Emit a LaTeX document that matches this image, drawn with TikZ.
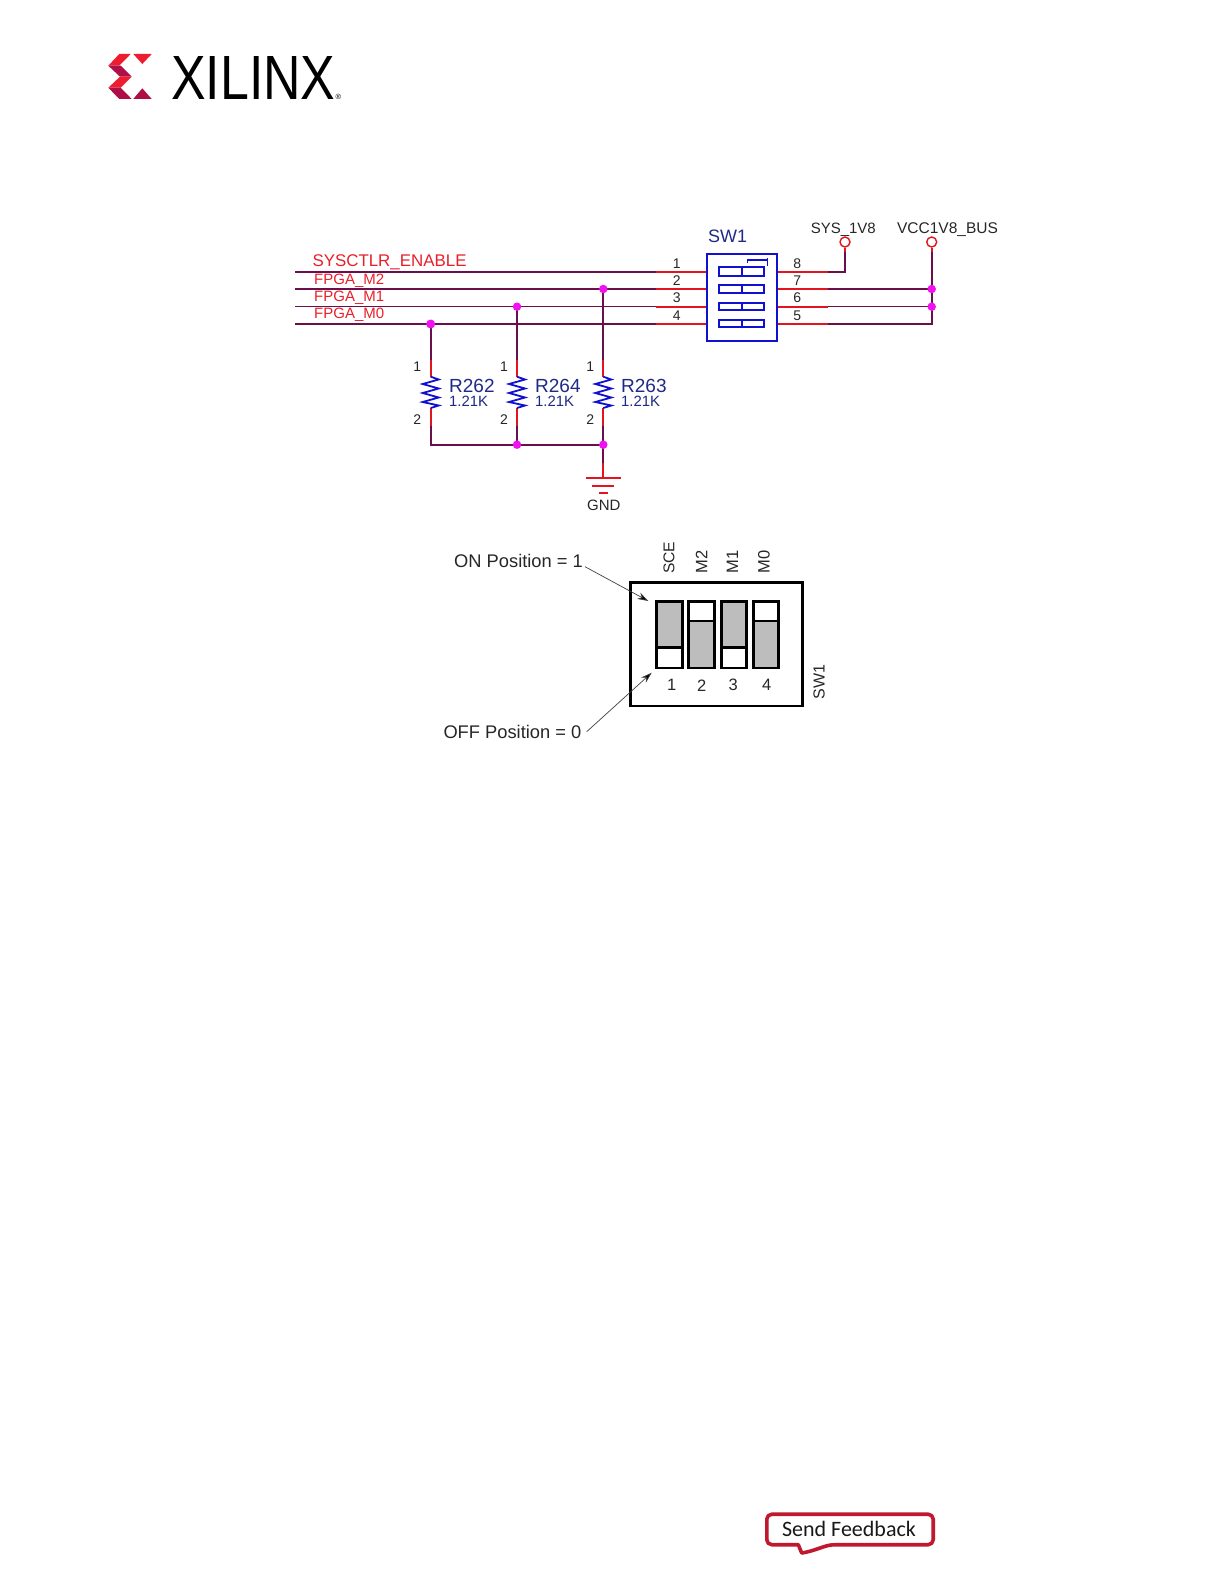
\documentclass[tikz,border=0pt]{standalone}
\usepackage{fontspec}
\usepackage{graphicx}
\usetikzlibrary{arrows.meta}
\setmainfont{Liberation Sans}
\newfontfamily\fbfont{Carlito}
\definecolor{wirec}{HTML}{6A0F4C}
\definecolor{pinred}{HTML}{E2141E}
\definecolor{symblue}{HTML}{1010D0}
\definecolor{navyt}{HTML}{1E2A86}
\definecolor{dotm}{HTML}{F010F0}
\definecolor{netred}{HTML}{E8202A}
\definecolor{logoa}{HTML}{ED1C2E}
\definecolor{logob}{HTML}{AE0F46}
\definecolor{fbred}{HTML}{C0182F}
\newcommand{\fs}[1]{\fontsize{#1}{#1}\selectfont}
\tikzset{
  x=1pt,y=-1pt,
  wire/.style={draw=wirec,line width=1.9pt},
  thinwire/.style={draw=wirec,line width=1.4pt},
  pin/.style={draw=pinred,line width=1.9pt},
  sym/.style={draw=symblue,line width=1.8pt},
  dot/.style={circle,fill=dotm,inner sep=0pt,minimum size=8.5pt},
  net/.style={inner sep=0pt,anchor=west,text=netred},
  num/.style={inner sep=0pt,text=black!85,font=\fs{14}},
  rname/.style={inner sep=0pt,anchor=west,text=navyt,font=\fs{19}},
  rval/.style={inner sep=0pt,anchor=west,text=navyt,font=\fs{14.9}},
  blk/.style={inner sep=0pt,text=black!85},
  term/.style={circle,draw=pinred,line width=1.4pt,fill=white,inner sep=0pt,minimum size=10pt},
  dip/.style={draw=black,line width=2.6pt},
  note/.style={draw=black!75,line width=.7pt,-{Stealth[length=11pt,width=7pt,fill=black]}}
}
\newcommand{\resist}[1]{%
  \draw[sym,line join=miter] (#1,376.7) -- (#1+8,379.5) -- (#1-8,384) -- (#1+8,388.5) -- (#1-8,393) -- (#1+8,397.5) -- (#1-8,402) -- (#1+8,405.5) -- (#1,408);
}
\newcommand{\dipsw}[4]{\fill[black!26] (#1,#3) rectangle (#2,#4);}
\begin{document}
\begin{tikzpicture}
\useasboundingbox (0,0) rectangle (1224,1584);
% logo
\fill[logoa] (108.3,65.7) -- (119.3,54) -- (130.7,54) -- (119.3,65.7) -- cycle;
\fill[logoa] (133.3,54) -- (151.7,54) -- (142.3,64) -- cycle;
\fill[logob] (108.3,65.7) -- (120.7,65.7) -- (131.7,76.7) -- (120,76.7) -- cycle;
\fill[logoa] (120,76.7) -- (131.7,76.7) -- (120.7,87.7) -- (108.3,87.7) -- cycle;
\fill[logob] (108.3,87.7) -- (120.7,87.7) -- (131.7,99) -- (119.3,99) -- cycle;
\fill[logob] (142.3,88.3) -- (151.7,99) -- (133.3,99) -- cycle;
\node[inner sep=0pt,anchor=base west] (xlx) at (171,99.3) {\scalebox{0.83}[1]{\fs{62.5}XILINX}};
\node[inner sep=0pt,anchor=center] (reg) at (338.5,96.5) {\fs{7.5}®};
% wires
\coordinate (w1l) at (295,271.7); \coordinate (w2l) at (295,289); \coordinate (w3l) at (295,306.7); \coordinate (w4l) at (295,324);
\draw[wire] (w1l) -- (656,271.7);
\draw[wire] (w2l) -- (656,289);
\draw[thinwire] (w3l) -- (656,306.7);
\draw[wire] (w4l) -- (656,324);
\foreach \y in {271.7,289,306.7,324} {\draw[pin] (656,\y) -- (706.7,\y); \draw[pin] (777.3,\y) -- (827.7,\y);}
% DIP symbol
\draw[sym] (706.7,254.3) rectangle (777.3,340.7);
\foreach \a/\b in {267.3/275.7,285.3/293,302.7/310,319.7/327} {
  \draw[sym] (718.7,\a) rectangle (764.3,\b);
  \draw[sym] (741.7,\a) -- (741.7,\b);
}
\draw[sym,line width=1.2pt] (747.3,263) -- (747.3,260) -- (767.3,260);
\draw[sym,line width=1.2pt] (767.3,257.7) -- (767.3,265.7);
% right wires
\node[term] (t1) at (845,242) {};
\node[term] (t2) at (931.7,242) {};
\draw[pin] (t1.south) -- (845,251.7);
\draw[pin] (t2.south) -- (931.7,251.7);
\draw[wire,line join=miter] (827.7,271.7) -- (845,271.7) -- (845,251.7);
\draw[wire] (827.7,289) -- (931.7,289);
\draw[thinwire] (827.7,306.7) -- (931.7,306.7);
\draw[wire,line join=miter] (827.7,324) -- (931.7,324) -- (931.7,251.7);
\node[dot] (j5) at (931.7,289) {};
\node[dot] (j6) at (931.7,306.7) {};
% resistor branches
\draw[wire] (430.7,324) -- (430.7,360);
\draw[thinwire] (517,306.7) -- (517,360);
\draw[wire] (603.3,289) -- (603.3,360);
\foreach \x in {430.7,517,603.3} {
  \draw[pin] (\x,360) -- (\x,376.7);
  \draw[pin] (\x,408) -- (\x,426);
  \resist{\x}
}
\draw[wire,line join=miter] (430.7,426) -- (430.7,444.7) -- (603.3,444.7);
\draw[thinwire] (517,426) -- (517,444.7);
\draw[wire] (603.3,426) -- (603.3,463);
\draw[pin] (603.3,463) -- (603.3,478.3);
\draw[pin] (585.7,478.3) -- (621,478.3);
\draw[pin] (592.3,486) -- (614.3,486);
\draw[pin] (599.3,492.7) -- (608.3,492.7);
\node[dot] (j1) at (603.3,289) {};
\node[dot] (j2) at (517,306.7) {};
\node[dot,minimum size=9pt] (j3) at (430.7,324) {};
\node[dot] (j4) at (517,444.7) {};
\node[dot] (j7) at (603.3,444.7) {};
% net names
\node[net,font=\fs{16.9}] (n1) at (312.3,262.5) {SYSCTLR\_ENABLE};
\node[net,font=\fs{15}] (n2) at (314,280.5) {FPGA\_M2};
\node[net,font=\fs{15}] (n3) at (314,297.5) {FPGA\_M1};
\node[net,font=\fs{15}] (n4) at (314,314.8) {FPGA\_M0};
% numbers
\foreach \n/\y in {1/263.3,2/280.7,3/297.7,4/315.3} \node[num] at (676.7,\y) {\n};
\foreach \n/\y in {8/263.3,7/280.7,6/297.7,5/315.3} \node[num] at (797.3,\y) {\n};
\foreach \x in {417.3,504,590.3} {\node[num] at (\x,366.7) {1}; \node[num] at (\x,419.3) {2};}
\node[rname] (r262) at (449,386) {R262};
\node[rval] at (449,401.7) {1.21K};
\node[rname] (r264) at (535,386) {R264};
\node[rval] at (535,401.7) {1.21K};
\node[rname] (r263) at (621,386) {R263};
\node[rval] at (621,401.7) {1.21K};
\node[inner sep=0pt,text=navyt,font=\fs{18}] (sw) at (727.7,236) {SW1};
\node[blk,font=\fs{15}] at (843.3,229.5) {SYS\_1V8};
\node[blk,font=\fs{15.5}] at (947.5,229.5) {VCC1V8\_BUS};
\node[blk,font=\fs{15}] (gnd) at (603.8,505) {GND};
% lower diagram
\draw[black,line width=2.6pt] (630.7,582.3) rectangle (802.7,706);
\dipsw{656.7}{682.3}{601.3}{647.7}
\dipsw{688.3}{714.3}{621}{668}
\dipsw{721.3}{746.7}{601.3}{647.7}
\dipsw{753.3}{778.3}{621}{668}
\foreach \a/\b/\c in {656.7/682.3/647.7,688.3/714.3/621,721.3/746.7/647.7,753.3/778.3/621} {
  \draw[dip] (\a,601.3) rectangle (\b,668);
  \draw[dip] (\a,\c) -- (\b,\c);
}
\foreach \n/\x in {1/671.7,2/701.7,3/733.3,4/766.7} \node[blk,font=\fs{16.5}] at (\x,685.3) {\n};
\node[blk,font=\fs{15.6},rotate=90,anchor=west] at (669,574) {SCE};
\node[blk,font=\fs{16.5},rotate=90,anchor=west] at (701.5,573.5) {M2};
\node[blk,font=\fs{16.5},rotate=90,anchor=west] at (732.5,573.5) {M1};
\node[blk,font=\fs{16.5},rotate=90,anchor=west] at (764,573.5) {M0};
\node[blk,font=\fs{16},rotate=90,anchor=west] at (819,699.3) {SW1};
\node[blk,font=\fs{18.3},anchor=west] (on) at (454,560.7) {ON Position = 1};
\node[blk,font=\fs{18.3},anchor=west] (off) at (443.3,732.3) {OFF Position = 0};
\coordinate (ona) at (648.3,601);
\coordinate (offa) at (651.7,672.7);
\coordinate (onb) at (585,566.7);
\coordinate (offb) at (586.7,731.7);
\draw[note] (onb) -- (ona);
\draw[note] (offb) -- (offa);
% send feedback
\draw[fbred,line width=3.6pt,line join=round,fill=white,rounded corners=5pt]
  (850,1514.2) -- (933.2,1514.2) -- (933.2,1544.7) -- (838,1544.7)
  [sharp corners] .. controls (825,1545) and (815,1551) .. (801.7,1553) -- (798.3,1544.7)
  [rounded corners=5pt] -- (766.8,1544.7) -- (766.8,1514.2) -- cycle;
\node[inner sep=0pt,font=\fbfont\fs{22},text=black!90] (fb) at (849,1529) {Send Feedback};
\end{tikzpicture}
\end{document}
